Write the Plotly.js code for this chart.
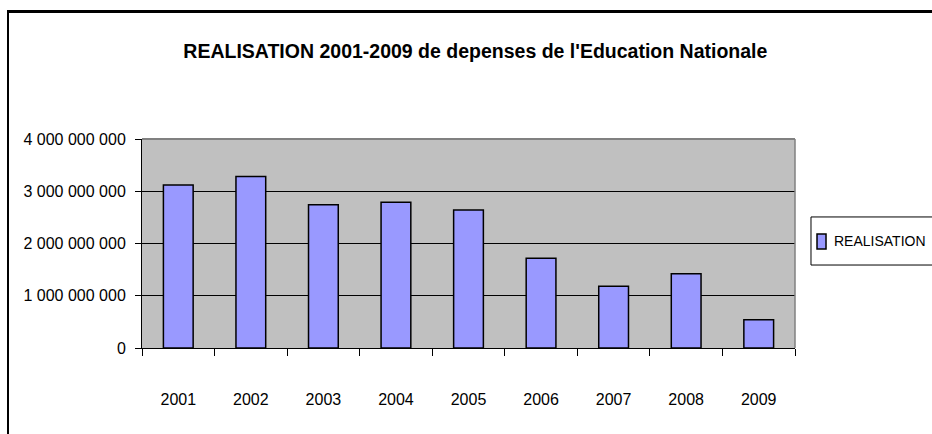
<!DOCTYPE html>
<html>
<head>
<meta charset="utf-8">
<script src="https://cdn.plot.ly/plotly-3.0.1.min.js"></script>
<style>
  html, body { margin: 0; padding: 0; background: #fff; }
  #wrap { position: relative; width: 932px; height: 434px; overflow: hidden; }
  #chart { width: 932px; height: 434px; }
  #frame { position: absolute; left: 7px; top: 10px; width: 940px; height: 440px;
           border-top: 3px solid #000; border-left: 2px solid #000; pointer-events: none; }
</style>
</head>
<body>
<div id="wrap">
  <div id="chart"></div>
  <div id="frame"></div>
</div>
<script>
const years = ["2001", "2002", "2003", "2004", "2005", "2006", "2007", "2008", "2009"];
const realisation = [3120000000, 3280000000, 2740000000, 2790000000, 2640000000, 1720000000, 1180000000, 1420000000, 540000000];
const yTicks = [0, 1000000000, 2000000000, 3000000000, 4000000000];
const seriesName = "REALISATION";
const chartTitle = "REALISATION 2001-2009 de depenses de l'Education Nationale";

const FONT = '"Liberation Sans", Arial, sans-serif';
const BAR_COLOR = '#9999FF';

const trace = {
  type: 'bar',
  x: years,
  y: realisation,
  name: seriesName,
  marker: { color: BAR_COLOR, line: { color: '#000000', width: 1.5 } },
  showlegend: false,
  hoverinfo: 'x+y'
};

// Legend drawn as a boxed key beside the plot (paper coordinates)
const legendShapes = [
  { type: 'rect', xref: 'paper', yref: 'paper', x0: 1.0245, x1: 1.25, y0: 0.397, y1: 0.627,
    line: { color: '#000', width: 1 }, fillcolor: '#FFFFFF', layer: 'above' },
  { type: 'rect', xref: 'paper', yref: 'paper', x0: 1.0337, x1: 1.0475, y0: 0.474, y1: 0.545,
    line: { color: '#000', width: 1.5 }, fillcolor: BAR_COLOR, layer: 'above' }
];

const layout = {
  width: 932,
  height: 434,
  margin: { l: 142, r: 137, t: 139, b: 86, autoexpand: false },
  paper_bgcolor: '#FFFFFF',
  plot_bgcolor: '#C0C0C0',
  separators: ', ',
  font: { family: FONT, size: 16, color: '#000' },
  showlegend: false,
  title: {
    text: '<b>' + chartTitle + '</b>',
    font: { family: FONT, size: 19.5, color: '#000' },
    xref: 'container', x: 0.51, xanchor: 'center',
    yref: 'container', y: 0.882, yanchor: 'middle'
  },
  bargap: 0.59,
  xaxis: {
    type: 'category',
    tickson: 'boundaries',
    ticks: 'outside', ticklen: 7, tickwidth: 1, tickcolor: '#000',
    showline: true, linecolor: '#000', linewidth: 1,
    showgrid: false,
    automargin: false,
    ticklabelstandoff: 37,
    tickfont: { family: FONT, size: 16, color: '#000' }
  },
  yaxis: {
    range: [0, 4000000000],
    tickvals: yTicks,
    tickformat: ',.0f',
    ticks: 'outside', ticklen: 6, tickwidth: 1, tickcolor: '#000',
    showline: true, linecolor: '#000', linewidth: 1,
    showgrid: true, gridcolor: '#000', gridwidth: 1,
    zeroline: false,
    automargin: false,
    ticklabelstandoff: 6,
    tickfont: { family: FONT, size: 16, color: '#000' }
  },
  annotations: [
    { xref: 'paper', yref: 'paper', x: 1.0567, y: 0.5096, xanchor: 'left', yanchor: 'middle',
      text: seriesName, showarrow: false, font: { family: FONT, size: 14, color: '#000' } }
  ],
  shapes: [
    { type: 'line', xref: 'paper', yref: 'paper', x0: 0, x1: 1, y0: 1, y1: 1,
      line: { color: '#808080', width: 2 }, layer: 'above' },
    { type: 'line', xref: 'paper', yref: 'paper', x0: 1, x1: 1, y0: 0, y1: 1,
      line: { color: '#808080', width: 1.5 }, layer: 'above' }
  ].concat(legendShapes)
};

Plotly.newPlot('chart', [trace], layout, { displayModeBar: false, staticPlot: true });
</script>
</body>
</html>
